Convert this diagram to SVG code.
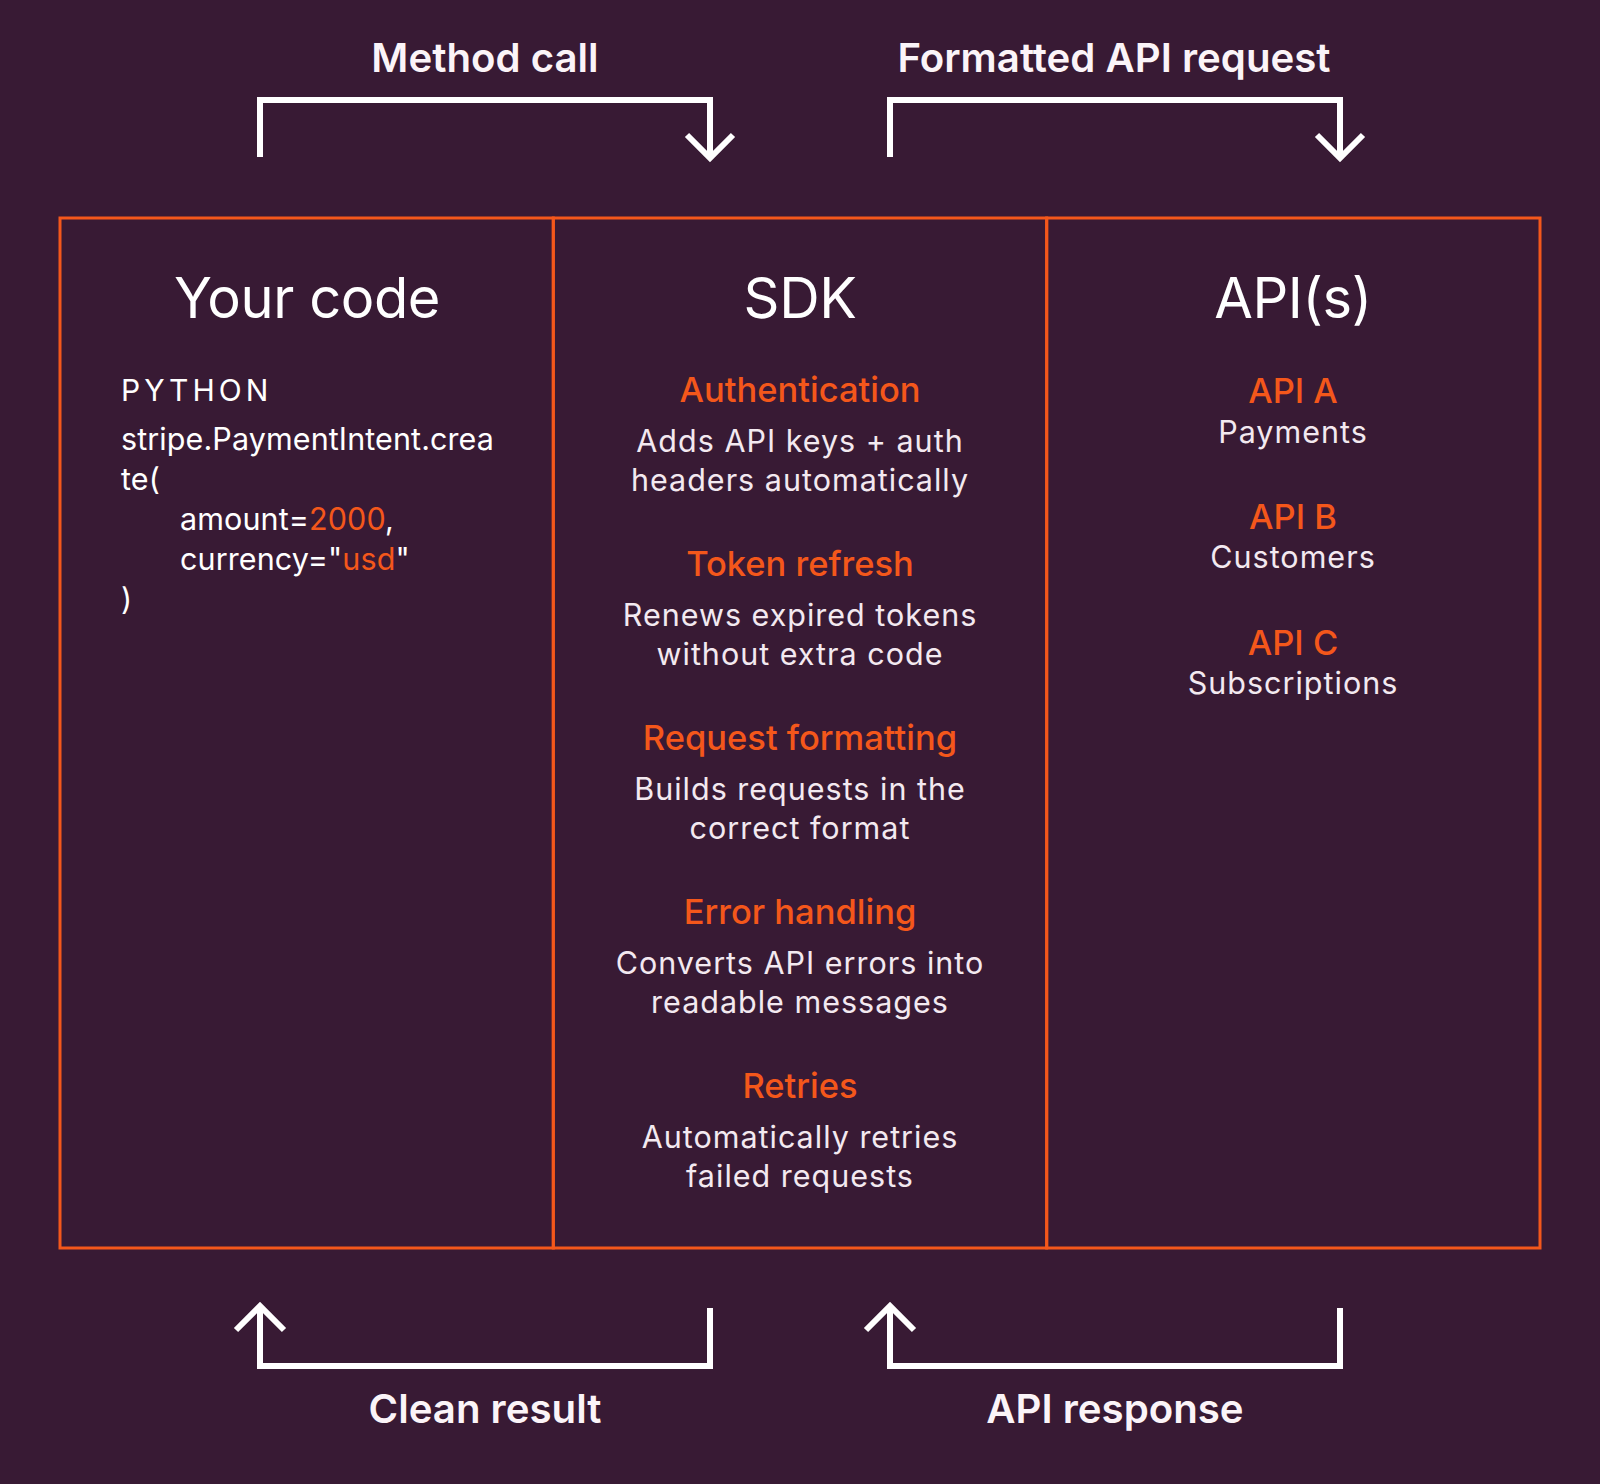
<svg xmlns="http://www.w3.org/2000/svg" width="1600" height="1484" viewBox="0 0 1600 1484">
<style>
.bg{fill:#381a34}
.box{fill:none;stroke:#f4571b;stroke-width:3}
.conn{fill:none;stroke:#ffffff;stroke-width:6;stroke-linejoin:miter;stroke-linecap:butt}
.flow{font-family:Inter,"Liberation Sans",sans-serif;font-size:40.2px;font-weight:600;fill:#fbf4f8;text-anchor:middle}
.title{font-family:Inter,"Liberation Sans",sans-serif;font-size:56px;font-weight:400;fill:#ffffff;text-anchor:middle;letter-spacing:-0.4px}
.head{font-family:Inter,"Liberation Sans",sans-serif;font-size:34.5px;font-weight:450;fill:#f4571b;text-anchor:middle}
.desc{font-family:Inter,"Liberation Sans",sans-serif;font-size:30.5px;font-weight:400;fill:#f3e9f0;text-anchor:middle;letter-spacing:1px}
.code{font-family:Inter,"Liberation Sans",sans-serif;font-size:30.5px;font-weight:400;fill:#ffffff;letter-spacing:0.1px}
.lang{font-family:Inter,"Liberation Sans",sans-serif;font-size:30px;font-weight:400;fill:#ffffff;letter-spacing:4px}
.hl{fill:#f4571b}
</style>
<rect class="bg" x="0" y="0" width="1600" height="1484"/>
<g id="connectors">
<path class="conn" d="M260 157 V100 H710 V158"/>
<path class="conn" d="M687 135 L710 158 L733 135"/>
<path class="conn" d="M890 157 V100 H1340 V158"/>
<path class="conn" d="M1317 135 L1340 158 L1363 135"/>
<path class="conn" d="M260 1307 V1366 H710 V1308"/>
<path class="conn" d="M236 1330 L260 1306 L284 1330"/>
<path class="conn" d="M890 1307 V1366 H1340 V1308"/>
<path class="conn" d="M866 1330 L890 1306 L914 1330"/>
<text class="flow" x="485" y="72">Method call</text>
<text class="flow" x="1114" y="72">Formatted API request</text>
<text class="flow" x="485" y="1423">Clean result</text>
<text class="flow" x="1115" y="1423">API response</text>
</g>
<g id="your-code">
<rect class="box" x="60" y="218" width="493.3" height="1030"/>
<text class="title" x="307" y="318">Your code</text>
<text class="lang" x="121" y="401">PYTHON</text>
<text class="code" x="121" y="450">stripe.PaymentIntent.crea</text>
<text class="code" x="121" y="490">te(</text>
<text class="code" x="180" y="530">amount=<tspan class="hl">2000</tspan>,</text>
<text class="code" x="180" y="570">currency="<tspan class="hl">usd</tspan>"</text>
<text class="code" x="121" y="610">)</text>
</g>
<g id="sdk">
<rect class="box" x="553.3" y="218" width="493.4" height="1030"/>
<text class="title" x="800" y="318">SDK</text>
<text class="head" x="800" y="402">Authentication</text>
<text class="desc" x="800" y="452">Adds API keys + auth</text>
<text class="desc" x="800" y="491">headers automatically</text>
<text class="head" x="800" y="576">Token refresh</text>
<text class="desc" x="800" y="626">Renews expired tokens</text>
<text class="desc" x="800" y="665">without extra code</text>
<text class="head" x="800" y="750">Request formatting</text>
<text class="desc" x="800" y="800">Builds requests in the</text>
<text class="desc" x="800" y="839">correct format</text>
<text class="head" x="800" y="924">Error handling</text>
<text class="desc" x="800" y="974">Converts API errors into</text>
<text class="desc" x="800" y="1013">readable messages</text>
<text class="head" x="800" y="1098">Retries</text>
<text class="desc" x="800" y="1148">Automatically retries</text>
<text class="desc" x="800" y="1187">failed requests</text>
</g>
<g id="apis">
<rect class="box" x="1046.7" y="218" width="493.3" height="1030"/>
<text class="title" x="1293" y="318">API(s)</text>
<text class="head" x="1293" y="403">API A</text>
<text class="desc" x="1293" y="443">Payments</text>
<text class="head" x="1293" y="529">API B</text>
<text class="desc" x="1293" y="568">Customers</text>
<text class="head" x="1293" y="655">API C</text>
<text class="desc" x="1293" y="694">Subscriptions</text>
</g>
</svg>
